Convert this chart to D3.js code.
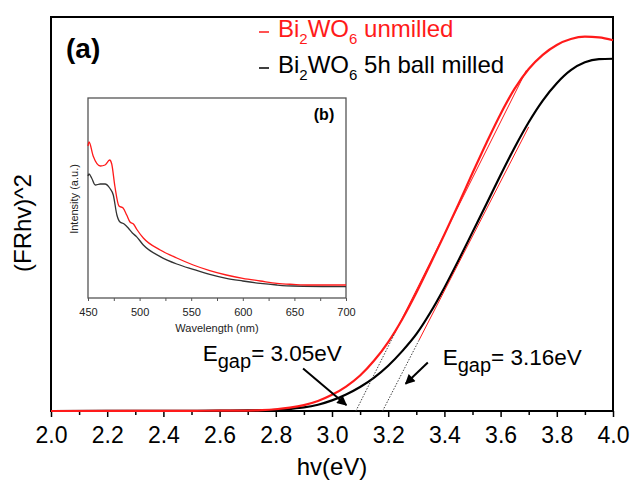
<!DOCTYPE html>
<html>
<head>
<meta charset="utf-8">
<script src="https://cdn.jsdelivr.net/npm/d3@7"></script>
<style>
  body { margin: 0; background: #fff; }
  svg { display: block; font-family: "Liberation Sans", Arial, sans-serif; }
</style>
</head>
<body>
<svg id="chart" width="634" height="486"></svg>
<script>
// main plot: (F(R)hv)^2 vs photon energy, values in % of frame height
const hvUnmilled = [2.0, 2.3, 2.5, 2.6, 2.7, 2.75, 2.8, 2.85, 2.9, 2.95, 3.0, 3.05, 3.1, 3.15, 3.2, 3.25, 3.3, 3.35, 3.4, 3.45, 3.5, 3.55, 3.6, 3.65, 3.7, 3.75, 3.8, 3.85, 3.9, 3.95, 4.0];
const yUnmilled  = [0, 0.02, 0.05, 0.08, 0.12, 0.22, 0.45, 0.85, 1.5, 2.55, 4.1, 6.2, 9.0, 12.8, 17.5, 23.3, 30.0, 37.3, 44.8, 52.5, 60.4, 68.1, 75.4, 81.8, 86.8, 90.4, 92.9, 94.4, 95.0, 94.85, 94.1];

const hvMilled = [2.0, 2.4, 2.6, 2.7, 2.8, 2.85, 2.9, 2.95, 3.0, 3.05, 3.1, 3.15, 3.2, 3.25, 3.3, 3.35, 3.4, 3.45, 3.5, 3.55, 3.6, 3.65, 3.7, 3.75, 3.8, 3.85, 3.9, 3.95, 4.0];
const yMilled  = [0, 0.03, 0.08, 0.15, 0.3, 0.55, 0.9, 1.6, 2.7, 4.2, 6.1, 8.5, 11.5, 15.2, 19.5, 25.0, 31.3, 38.2, 45.4, 52.6, 59.9, 66.9, 73.3, 78.8, 83.2, 86.5, 88.5, 89.3, 89.4];

// tangent lines: [x-intercept, top end x, top end y, end of dotted part y]
const tangentUnmilled = [3.085, 3.692, 86.5, 19.6];
const tangentMilled   = [3.18, 3.70, 72.1, 18.0];

const xTicks = [2.0, 2.2, 2.4, 2.6, 2.8, 3.0, 3.2, 3.4, 3.6, 3.8, 4.0];

// inset (b): PL spectra
const wlUnmilled = [450, 451, 455, 462, 466.5, 471, 473, 476, 480, 484, 487.5, 490.7, 494, 497.7, 503.6, 520, 536, 552, 568, 584, 600, 617, 633, 649, 665, 700];
const iUnmilled  = [76, 78, 71, 66, 66.5, 69, 67, 56, 46, 45, 41.5, 38, 37, 34, 30, 24, 20, 16.5, 13.7, 11.5, 9.8, 8.5, 7.3, 6.8, 6.5, 6.5];
const wlMilled = [450, 451, 453.5, 457, 462, 466.5, 471, 474.5, 478, 481, 485, 489, 493, 497, 503.6, 520, 536, 552, 568, 584, 600, 617, 633, 649, 700];
const iMilled  = [61, 62, 60, 56.5, 57, 57, 55, 51.5, 41.5, 38, 37, 35, 32.5, 30.7, 26.5, 20.7, 17, 14.3, 11.8, 9.8, 8.5, 7.3, 6.5, 6, 5.7];
const wlTicks = [450, 500, 550, 600, 650, 700];

// annotations (data coords)
const egapLabels = ["3.05eV", "3.16eV"];
const egapPos = [[2.54, 12.8], [3.394, 11.7]];
const arrows = [[2.897, 10.8, 3.051, 1.5], [3.341, 12.3, 3.262, 6.9]];

const RED = "#ff1a1a";
const svg = d3.select("#chart");

const x = d3.scaleLinear().domain([2, 4]).range([51, 613]);
const y = d3.scaleLinear().domain([0, 100]).range([411, 17]);

const zip = (a, b) => a.map((v, i) => [v, b[i]]);

// inset
const xi = d3.scaleLinear().domain([450, 700]).range([88, 346]);
const yi = d3.scaleLinear().domain([0, 100]).range([298, 98]);

const inset = svg.append("g");
inset.append("rect")
  .attr("x", xi(450)).attr("y", yi(100))
  .attr("width", xi(700) - xi(450)).attr("height", yi(0) - yi(100))
  .attr("fill", "none").attr("stroke", "#555").attr("stroke-width", 1.3);

const iline = d3.line().x(d => xi(d[0])).y(d => yi(d[1])).curve(d3.curveMonotoneX);
inset.append("path").datum(zip(wlMilled, iMilled))
  .attr("d", iline).attr("fill", "none").attr("stroke", "#333").attr("stroke-width", 1.3);
inset.append("path").datum(zip(wlUnmilled, iUnmilled))
  .attr("d", iline).attr("fill", "none").attr("stroke", RED).attr("stroke-width", 1.3);

const ixAxis = inset.append("g").attr("transform", `translate(0,${yi(0)})`)
  .call(d3.axisBottom(xi).tickValues(wlTicks).tickSize(3).tickPadding(7).tickFormat(d3.format("d")));
inset.append("g").attr("transform", `translate(0,${yi(0)})`)
  .call(d3.axisBottom(xi).tickValues(d3.range(475, 700, 50)).tickSize(3).tickFormat(""))
  .call(g => g.select(".domain").remove());
ixAxis.select(".domain").remove();
inset.selectAll(".tick line").attr("stroke", "#555");
ixAxis.selectAll("text").attr("font-size", 11).attr("fill", "#222")
  .attr("font-family", "Liberation Sans, Arial, sans-serif");

inset.append("text").attr("x", xi(575)).attr("y", 332)
  .attr("text-anchor", "middle").attr("font-size", 11).attr("fill", "#222")
  .text("Wavelength (nm)");
inset.append("text").attr("transform", "translate(78,199) rotate(-90)")
  .attr("text-anchor", "middle").attr("font-size", 11).attr("fill", "#222")
  .text("Intensity (a.u.)");
inset.append("text").attr("x", 324).attr("y", 120)
  .attr("text-anchor", "middle").attr("font-size", 16).attr("font-weight", "bold")
  .text("(b)");

// main frame
svg.append("rect")
  .attr("x", x(2)).attr("y", y(100))
  .attr("width", x(4) - x(2)).attr("height", y(0) - y(100))
  .attr("fill", "none").attr("stroke", "#000").attr("stroke-width", 2);

const xAxis = svg.append("g").attr("transform", `translate(0,${y(0)})`)
  .call(d3.axisBottom(x).tickValues(xTicks).tickSize(6).tickPadding(10).tickFormat(d3.format(".1f")));
xAxis.select(".domain").remove();
xAxis.selectAll("line").attr("stroke-width", 1.5);
xAxis.selectAll("text").attr("font-size", 23).attr("fill", "#000")
  .attr("font-family", "Liberation Sans, Arial, sans-serif");
svg.append("g").attr("transform", `translate(0,${y(0)})`)
  .call(d3.axisBottom(x).tickValues(d3.range(2.1, 4, 0.2)).tickSize(4).tickFormat(""))
  .call(g => g.select(".domain").remove())
  .selectAll("line").attr("stroke-width", 1.5);

svg.append("text").attr("x", (x(2) + x(4)) / 2).attr("y", 475)
  .attr("text-anchor", "middle").attr("font-size", 24).text("hv(eV)");
svg.append("text").attr("transform", "translate(31,223) rotate(-90)")
  .attr("text-anchor", "middle").attr("font-size", 24).text("(FRhv)^2");

// tangent lines
function tangent(t, color) {
  const [x0, x1, y1, yd] = t;
  const xd = x0 + (x1 - x0) * yd / y1;
  svg.append("line")
    .attr("x1", x(x0)).attr("y1", y(0)).attr("x2", x(xd)).attr("y2", y(yd))
    .attr("stroke", "#444").attr("stroke-width", 1).attr("stroke-dasharray", "1.5,1.5");
  svg.append("line")
    .attr("x1", x(xd)).attr("y1", y(yd)).attr("x2", x(x1)).attr("y2", y(y1))
    .attr("stroke", color).attr("stroke-width", 1);
}

const line = d3.line().x(d => x(d[0])).y(d => y(d[1])).curve(d3.curveMonotoneX);
svg.append("path").datum(zip(hvMilled, yMilled))
  .attr("d", line).attr("fill", "none").attr("stroke", "#000").attr("stroke-width", 2.2);
svg.append("path").datum(zip(hvUnmilled, yUnmilled))
  .attr("d", line).attr("fill", "none").attr("stroke", RED).attr("stroke-width", 2.2);

tangent(tangentUnmilled, RED);
tangent(tangentMilled, RED);

// arrows
svg.append("defs").append("marker")
  .attr("id", "head").attr("viewBox", "0 0 10 10").attr("refX", 9).attr("refY", 5)
  .attr("markerWidth", 6).attr("markerHeight", 5).attr("orient", "auto")
  .append("path").attr("d", "M0,0 L10,5 L0,10 z").attr("fill", "#000");
arrows.forEach(a => {
  svg.append("line")
    .attr("x1", x(a[0])).attr("y1", y(a[1])).attr("x2", x(a[2])).attr("y2", y(a[3]))
    .attr("stroke", "#000").attr("stroke-width", 2).attr("marker-end", "url(#head)");
});

// Egap labels
egapLabels.forEach((lab, i) => {
  const t = svg.append("text").attr("x", x(egapPos[i][0])).attr("y", y(egapPos[i][1]))
    .attr("font-size", 22.5);
  t.append("tspan").text("E");
  t.append("tspan").attr("dy", 7).attr("font-size", 20).text("gap");
  t.append("tspan").attr("dy", -7).text("= " + lab);
});

// legend
const legend = [
  { color: RED, label: " unmilled", y: 37 },
  { color: "#000", label: " 5h ball milled", y: 73 }
];
legend.forEach(l => {
  svg.append("line").attr("x1", 259).attr("x2", 269)
    .attr("y1", l.y - 5).attr("y2", l.y - 5)
    .attr("stroke", l.color).attr("stroke-width", 1.5);
  const t = svg.append("text").attr("x", 278).attr("y", l.y)
    .attr("font-size", 24).attr("fill", l.color);
  t.append("tspan").text("Bi");
  t.append("tspan").attr("dy", 7).attr("font-size", 15).text("2");
  t.append("tspan").attr("dy", -7).text("WO");
  t.append("tspan").attr("dy", 7).attr("font-size", 15).text("6");
  t.append("tspan").attr("dy", -7).text(l.label);
});

svg.append("text").attr("x", 66).attr("y", 58)
  .attr("font-size", 28).attr("font-weight", "bold").text("(a)");
</script>
</body>
</html>
